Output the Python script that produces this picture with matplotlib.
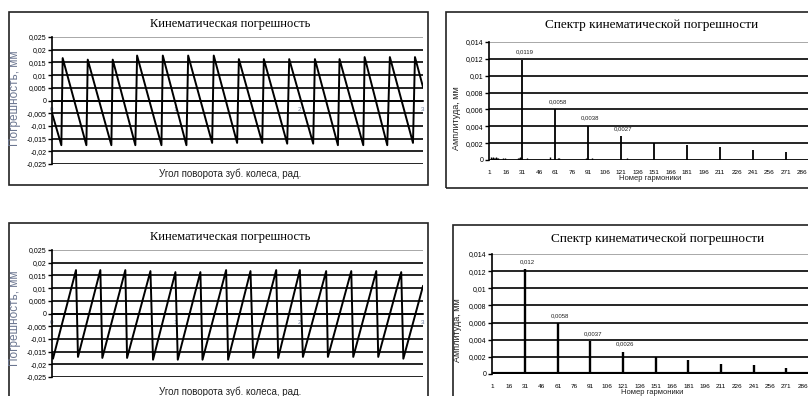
import numpy as np
import matplotlib.pyplot as plt
from matplotlib.patches import Rectangle
from matplotlib.ticker import FuncFormatter

plt.rcParams['font.family'] = ['Liberation Sans', 'DejaVu Sans']

#%% data

# kinematic error, upper case: turning points of the sawtooth (rad, mm)
err1_x = [0, 0.0755, 0.0863, 0.278, 0.289, 0.480, 0.491, 0.674, 0.688, 0.885, 0.896,
          1.087, 1.101, 1.295, 1.308, 1.497, 1.511, 1.700, 1.713, 1.902, 1.918,
          2.112, 2.126, 2.312, 2.325, 2.517, 2.528, 2.711, 2.732, 2.919, 2.935, 3.0]
err1_y = [-0.0049, -0.0176, 0.0167, -0.0176, 0.0161, -0.0176, 0.0161, -0.0176, 0.0177,
          -0.0176, 0.0177, -0.0176, 0.0177, -0.0167, 0.0177, -0.0167, 0.0163, -0.0167,
          0.0163, -0.0170, 0.0163, -0.0170, 0.0163, -0.0176, 0.0163, -0.0176, 0.0171,
          -0.0176, 0.0171, -0.0167, 0.0171, 0.0053]

# kinematic error, lower case
err2_x = [0, 0.008, 0.194, 0.210, 0.391, 0.407, 0.593, 0.607, 0.796, 0.817, 0.998, 1.017,
          1.200, 1.217, 1.408, 1.424, 1.605, 1.627, 1.813, 1.829, 2.004, 2.029,
          2.217, 2.231, 2.420, 2.436, 2.622, 2.638, 2.824, 2.841, 3.0]
err2_y = [-0.0150, -0.0178, 0.0171, -0.0171, 0.0171, -0.0175, 0.0171, -0.0175, 0.0167,
          -0.0182, 0.0163, -0.0182, 0.0163, -0.0182, 0.0171, -0.0182, 0.0167, -0.0175,
          0.0171, -0.0175, 0.0171, -0.0171, 0.0167, -0.0171, 0.0167, -0.0171, 0.0167,
          -0.0171, 0.0163, -0.0178, 0.0108]

# spectra: harmonic numbers and amplitudes (mm)
n_harm = 300
spec1_idx = [31, 61, 91, 121, 151, 181, 211, 241, 271]
spec1_amp = [0.0119, 0.0060, 0.0040, 0.0028, 0.0020, 0.0018, 0.0015, 0.0012, 0.0010]
noise1_idx = [2, 3, 4, 5, 6, 7, 8, 9, 13, 15, 27, 28, 29, 30, 35, 56, 63, 64, 89, 94, 126]
noise1_amp = [0.0003, 0.0002, 0.0003, 0.0002, 0.0002, 0.0003, 0.0002, 0.0002, 0.0002, 0.0002,
              0.0002, 0.0002, 0.0003, 0.0002, 0.0002, 0.0003, 0.0002, 0.0002, 0.0002, 0.0002,
              0.0002]
spec1_lbl = ['0,0119', '0,0058', '0,0038', '0,0027']

spec2_idx = [31, 61, 91, 121, 151, 181, 211, 241, 271]
spec2_amp = [0.0122, 0.0059, 0.0038, 0.0026, 0.0020, 0.0016, 0.0012, 0.0010, 0.0007]
spec2_lbl = ['0,012', '0,0058', '0,0037', '0,0026']

err_ticks = [-0.025, -0.02, -0.015, -0.01, -0.005, 0, 0.005, 0.01, 0.015, 0.02, 0.025]
angle_ticks = [0, 1, 2, 3]
amp_ticks = [0, 0.002, 0.004, 0.006, 0.008, 0.01, 0.012, 0.014]
harm_ticks = list(range(1, 301, 15))

#%% helpers (pixel -> figure fraction)

W, H = 808, 396

def fx(px):
    return px / W

def fy(py):
    return 1 - py / H

def comma(v, pos=None):
    return '{:g}'.format(round(v, 6)).replace('.', ',')

fig = plt.figure(figsize=(W / 100, H / 100), dpi=100)

# chart frames
for x0, y0, x1, y1 in [(9, 12, 428, 185), (446, 12, 840, 188),
                       (9, 223, 428, 430), (453, 225, 840, 430)]:
    fig.patches.append(Rectangle((fx(x0), fy(y1)), fx(x1) - fx(x0), fy(y0) - fy(y1),
                                 transform=fig.transFigure, fill=False,
                                 ec='#222222', lw=1.2))

#%% kinematic error panels

def error_panel(top, bottom, xs, ys, title_y, xlabel_y, ylabel_y):
    ax = fig.add_axes([fx(52), fy(bottom), fx(423) - fx(52), fy(top) - fy(bottom)])
    for v in err_ticks:
        ax.axhline(v, color='#999999' if v == 0.025 else 'k', lw=1.2, zorder=1)
    ax.plot(xs, ys, color='k', lw=1.4, zorder=3)
    ax.set_xlim(0, 3)
    ax.set_ylim(-0.025, 0.025)
    ax.set_yticks(err_ticks)
    ax.yaxis.set_major_formatter(FuncFormatter(comma))
    ax.set_xticks(angle_ticks)
    ax.set_xticklabels([str(a) for a in angle_ticks])
    for s in ['top', 'right']:
        ax.spines[s].set_visible(False)
    ax.spines['bottom'].set_position(('data', 0))
    ax.spines['bottom'].set_linewidth(1.2)
    ax.spines['left'].set_linewidth(1.2)
    ax.tick_params(axis='y', length=3, width=1, labelsize=5, pad=1)
    ax.tick_params(axis='x', length=0, labelsize=4.5, pad=5, labelcolor='#7080a0')
    ax.patch.set_alpha(0)
    fig.text(fx(230), fy(title_y), 'Кинематическая погрешность', ha='center', va='center',
             fontsize=9, family='Liberation Serif')
    fig.text(fx(230), fy(xlabel_y), 'Угол поворота зуб. колеса, рад.', ha='center',
             va='center', fontsize=7, color='#222222')
    fig.text(fx(15), fy(ylabel_y), 'Погрешность, мм', ha='center', va='center',
             rotation=90, fontsize=8.5, color='#6a7590')
    return ax

error_panel(37, 164, err1_x, err1_y, 24, 174, 98)
error_panel(250, 377, err2_x, err2_y, 237, 392, 318)

#%% spectrum panels

def spectrum_panel(left, y0, y14, pxcat, idx, amp, labels, bar_lw, base_lw,
                   title_xy, xlabel_xy, ylabel_xy):
    ax = fig.add_axes([fx(left), fy(y0), n_harm * pxcat / W, fy(y14) - fy(y0)])
    for v in amp_ticks[1:]:
        ax.axhline(v, color='#999999' if v == 0.014 else 'k', lw=1.2, zorder=1)
    ax.vlines(idx, 0, amp, color='k', lw=bar_lw, zorder=3)
    ax.axhline(0, color='k', lw=base_lw, zorder=4)
    for i, a, t in zip(idx, amp, labels):
        ax.annotate(t, (i, a), xytext=(1.5, 4), textcoords='offset points',
                    ha='center', va='bottom', fontsize=4.3, color='#222222')
    ax.set_xlim(0.5, n_harm + 0.5)
    ax.set_ylim(0, 0.014)
    ax.set_yticks(amp_ticks)
    ax.yaxis.set_major_formatter(FuncFormatter(comma))
    ax.set_xticks(harm_ticks)
    ax.set_xticklabels([str(h) for h in harm_ticks])
    for s in ['top', 'right', 'bottom']:
        ax.spines[s].set_visible(False)
    ax.spines['left'].set_linewidth(1.2)
    ax.tick_params(axis='y', length=3, width=1, labelsize=5, pad=1)
    ax.tick_params(axis='x', length=0, labelsize=4.6, pad=7)
    ax.patch.set_alpha(0)
    fig.text(fx(title_xy[0]), fy(title_xy[1]), 'Спектр кинематической погрешности',
             ha='center', va='center', fontsize=9.5, family='Liberation Serif')
    fig.text(fx(xlabel_xy[0]), fy(xlabel_xy[1]), 'Номер гармоники', ha='center',
             va='center', fontsize=5.5, color='#222222')
    fig.text(fx(ylabel_xy[0]), fy(ylabel_xy[1]), 'Амплитуда, мм', ha='center',
             va='center', rotation=90, fontsize=6.5, color='#222222')
    return ax

ax_s1 = spectrum_panel(489, 160, 42, 1.098, spec1_idx, spec1_amp, spec1_lbl, 1.3, 2.0,
                       (652, 25), (650, 179), (457, 118))
ax_s1.vlines(noise1_idx, 0, noise1_amp, color='k', lw=1.0, zorder=3)
spectrum_panel(492, 374, 254, 1.088, spec2_idx, spec2_amp, spec2_lbl, 1.7, 3.0,
               (658, 239), (652, 393), (458, 330))

fig.savefig('out.png', dpi=100)
